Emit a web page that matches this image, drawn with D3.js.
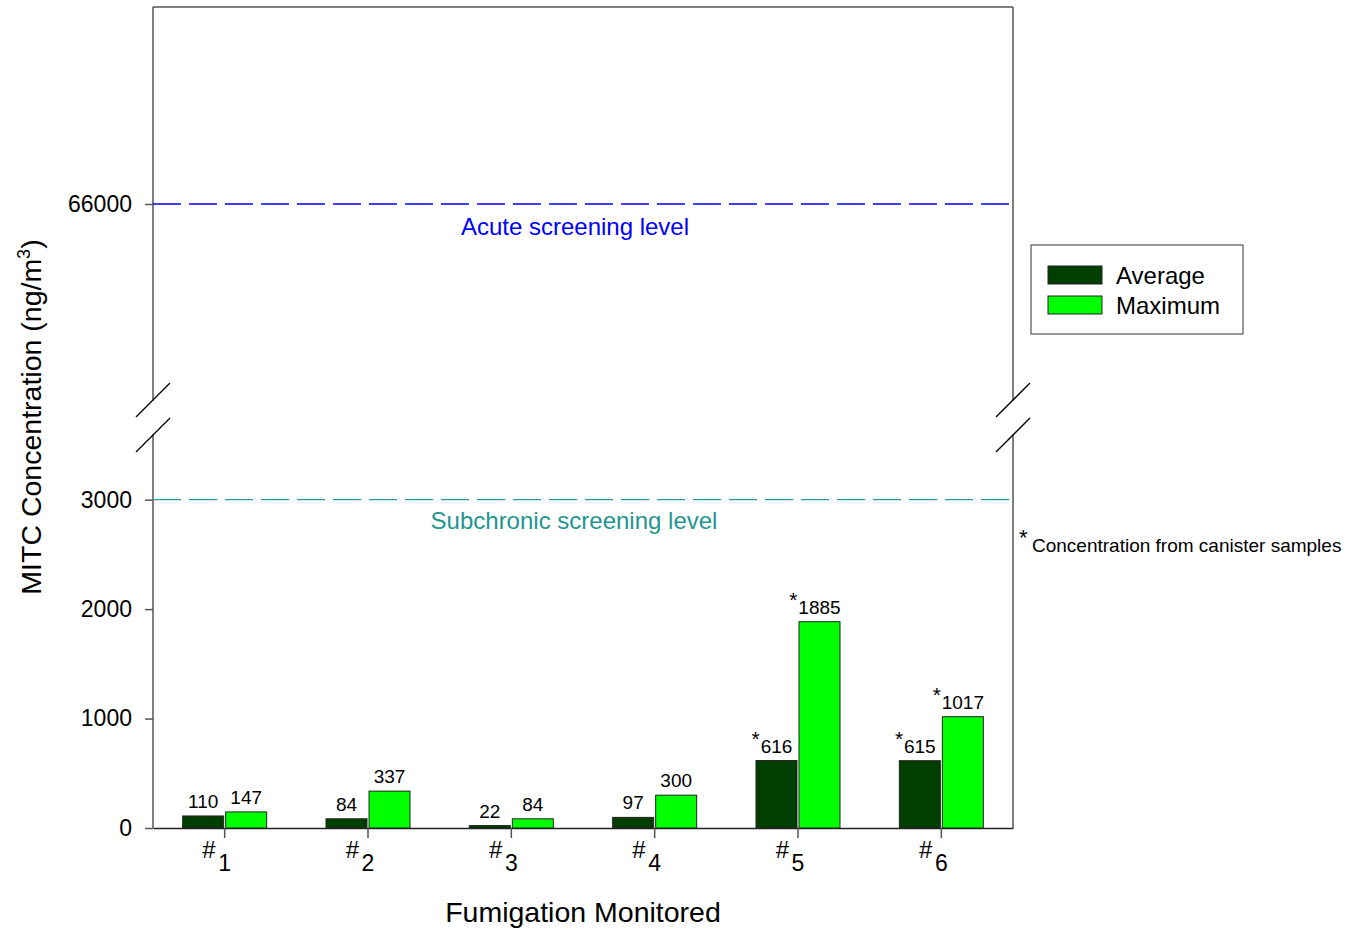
<!DOCTYPE html>
<html><head><meta charset="utf-8">
<script src="https://cdn.jsdelivr.net/npm/d3@7"></script>
<style>body{margin:0;background:#fff;} text{font-family:Arial,"Liberation Sans",sans-serif;fill:#000;}</style>
</head><body>
<svg id="c" width="1363" height="932"></svg>
<script>
const categories = ["1","2","3","4","5","6"];
const averageValues = [110, 84, 22, 97, 616, 615];
const maximumValues = [147, 337, 84, 300, 1885, 1017];
const averageStar = [false,false,false,false,true,true];
const maximumStar = [false,false,false,false,true,true];
const lowerTicks = [0, 1000, 2000, 3000];
const upperTicks = [66000];
const acuteLevel = 66000;
const subchronicLevel = 3000;
const seriesNames = ["Average","Maximum"];
const seriesColors = ["#003f00","#00ff00"];

const svg = d3.select("#c");
const L = 153, R = 1013, T = 7, B = 828;
const lowTop = 434, upTop = 401;
const yLow = d3.scaleLinear().domain([0, 3600]).range([B, lowTop]);
const yUp = d3.scaleLinear().domain([62000, 70000]).range([upTop, T]);
const y = v => v >= 62000 ? yUp(v) : yLow(v);
const x = d3.scaleBand().domain(categories).range([L, R]);
const axisColor = "#555";

// frame lines
svg.append("line").attr("x1",L).attr("x2",R).attr("y1",T).attr("y2",T).attr("stroke",axisColor).attr("stroke-width",1.5);
[L,R].forEach(xx=>{
  svg.append("line").attr("x1",xx).attr("x2",xx).attr("y1",T).attr("y2",upTop).attr("stroke",axisColor).attr("stroke-width",1.5);
  svg.append("line").attr("x1",xx).attr("x2",xx).attr("y1",lowTop).attr("y2",B).attr("stroke",axisColor).attr("stroke-width",1.5);
  svg.append("line").attr("x1",xx-17).attr("y1",417).attr("x2",xx+17).attr("y2",383).attr("stroke","#000").attr("stroke-width",1.3);
  svg.append("line").attr("x1",xx-17).attr("y1",452).attr("x2",xx+17).attr("y2",418).attr("stroke","#000").attr("stroke-width",1.3);
});

// y axes
const gLow = svg.append("g").attr("transform",`translate(${L},0)`)
  .call(d3.axisLeft(yLow).tickValues(lowerTicks).tickSize(8).tickPadding(13).tickFormat(d3.format("d")));
const gUp = svg.append("g").attr("transform",`translate(${L},0)`)
  .call(d3.axisLeft(yUp).tickValues(upperTicks).tickSize(8).tickPadding(13).tickFormat(d3.format("d")));
[gLow,gUp].forEach(g=>{
  g.select(".domain").remove();
  g.selectAll("line").attr("stroke",axisColor).attr("stroke-width",1.5);
  g.selectAll("text").style("font-size","23px").attr("font-family","Arial, Liberation Sans");
});

// x axis
const gx = svg.append("g").attr("transform",`translate(0,${B})`)
  .call(d3.axisBottom(x).tickSize(10).tickSizeOuter(0).tickFormat(""));
gx.select(".domain").attr("stroke","#222").attr("stroke-width",1.5);
gx.selectAll("line").attr("stroke",axisColor).attr("stroke-width",1.5);
categories.forEach(c=>{
  const cx = x(c) + x.bandwidth()/2;
  svg.append("text").attr("x",cx-9).attr("y",858).attr("text-anchor","end").style("font-size","24px").text("#");
  svg.append("text").attr("x",cx).attr("y",871).attr("text-anchor","middle").style("font-size","23px").text(c);
});

// reference lines
svg.append("line").attr("x1",L).attr("x2",R-3).attr("y1",y(acuteLevel)).attr("y2",y(acuteLevel))
  .attr("stroke","#0000ff").attr("stroke-width",1.3).attr("stroke-dasharray","28,8");
svg.append("text").attr("x",575).attr("y",y(acuteLevel)+31).attr("text-anchor","middle").style("font-size","24px").style("fill","#0000ff").text("Acute screening level");
svg.append("line").attr("x1",L).attr("x2",R-3).attr("y1",y(subchronicLevel)).attr("y2",y(subchronicLevel))
  .attr("stroke","#2a9a9a").attr("stroke-width",1.4).attr("stroke-dasharray","28,8");
svg.append("text").attr("x",574).attr("y",y(subchronicLevel)+29).attr("text-anchor","middle").style("font-size","24px").style("fill","#1f9690").text("Subchronic screening level");

// bars
const barW = 41, gap = 2;
const series = [averageValues, maximumValues];
const stars = [averageStar, maximumStar];
series.forEach((vals, si)=>{
  vals.forEach((v,i)=>{
    const cx = x(categories[i]) + x.bandwidth()/2;
    const bx = si===0 ? cx - gap/2 - barW : cx + gap/2;
    svg.append("rect").attr("x",bx).attr("y",yLow(v)).attr("width",barW).attr("height",B-yLow(v))
      .attr("fill",seriesColors[si]).attr("stroke","#222").attr("stroke-width",1);
    const lx = bx + barW/2;
    svg.append("text").attr("x",lx).attr("y",yLow(v)-8).attr("text-anchor","middle").style("font-size","19px").text(v);
    if (stars[si][i]) {
      const w = String(v).length*10.5;
      svg.append("text").attr("x",lx - w/2 - 1).attr("y",yLow(v)-15).attr("text-anchor","end").style("font-size","21px").text("*");
    }
  });
});

// axis titles
svg.append("text").attr("x",583).attr("y",922).attr("text-anchor","middle").style("font-size","28.5px").text("Fumigation Monitored");
const yt = svg.append("text").attr("transform","translate(41,417) rotate(-90)").attr("text-anchor","middle").style("font-size","28.5px");
yt.append("tspan").text("MITC Concentration (ng/m");
yt.append("tspan").attr("dy",-11).style("font-size","18px").text("3");
yt.append("tspan").attr("dy",11).text(")");

// legend
svg.append("rect").attr("x",1031).attr("y",245).attr("width",212).attr("height",89).attr("fill","#fff").attr("stroke","#333").attr("stroke-width",1);
seriesNames.forEach((n,i)=>{
  svg.append("rect").attr("x",1048).attr("y",266+i*30).attr("width",54).attr("height",18).attr("fill",seriesColors[i]).attr("stroke","#222");
  svg.append("text").attr("x",1116).attr("y",284+i*30).style("font-size","24px").text(n);
});

// note
svg.append("text").attr("x",1019).attr("y",545).style("font-size","22px").text("*");
svg.append("text").attr("x",1032).attr("y",552).style("font-size","19px").text("Concentration from canister samples");
</script>
</body></html>
